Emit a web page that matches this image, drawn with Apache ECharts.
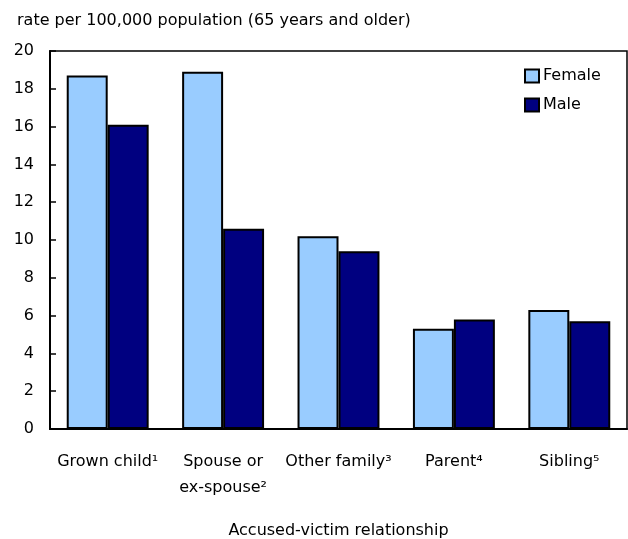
<!DOCTYPE html>
<html><head><meta charset="utf-8">
<script src="https://cdn.jsdelivr.net/npm/echarts@6/dist/echarts.min.js"></script>
<style>html,body{margin:0;padding:0;background:#fff}#c{width:628px;height:539px}</style>
</head><body><div id="c"></div>
<script>
var categories = ['Grown child\u00b9', 'Spouse or\nex-spouse\u00b2', 'Other family\u00b3', 'Parent\u2074', 'Sibling\u2075'];
var female = [18.7, 18.9, 10.2, 5.3, 6.3];
var male = [16.1, 10.6, 9.4, 5.8, 5.7];
var yTicks = {min: 0, max: 20, interval: 2};
var FONT = 'DejaVu Sans, Liberation Sans, Arial, sans-serif';
var chart = echarts.init(document.getElementById('c'));
chart.setOption({
  animation: false,
  textStyle: {fontFamily: FONT},
  title: {text: 'rate per 100,000 population (65 years and older)', left: 12, top: 8,
    textStyle: {fontFamily: FONT, fontSize: 16, fontWeight: 'normal', color: '#000'}},
  legend: {left: 519, top: 63, orient: 'vertical', icon: 'rect', itemWidth: 14, itemHeight: 13, itemGap: 13,
    textStyle: {fontFamily: FONT, fontSize: 16, color: '#000', padding: [0, 0, 0, -1]},
    data: ['Female', 'Male']},
  grid: {left: 50, right: 1, top: 51, bottom: 110, show: true, borderColor: '#000', borderWidth: 1.5,
    containLabel: false, outerBoundsMode: 'none'},
  xAxis: {type: 'category', data: categories,
    name: 'Accused-victim relationship', nameLocation: 'middle', nameGap: 94,
    nameTextStyle: {fontFamily: FONT, fontSize: 16, color: '#000'},
    axisLine: {lineStyle: {color: '#000', width: 2}}, axisTick: {show: false},
    axisLabel: {fontFamily: FONT, fontSize: 16, color: '#000', margin: 20, lineHeight: 26, interval: 0}},
  yAxis: {type: 'value', min: yTicks.min, max: yTicks.max, interval: yTicks.interval,
    splitLine: {show: false},
    axisLine: {show: true, lineStyle: {color: '#000', width: 2}},
    axisTick: {show: true, inside: true, length: 6, lineStyle: {color: '#000', width: 1.5}},
    axisLabel: {fontFamily: FONT, fontSize: 16, color: '#000', margin: 16}},
  series: [
    {name: 'Female', type: 'bar', data: female, barGap: '0%', barCategoryGap: '29%',
      itemStyle: {color: '#99CCFF', borderColor: '#000', borderWidth: 2}},
    {name: 'Male', type: 'bar', data: male,
      itemStyle: {color: '#000080', borderColor: '#000', borderWidth: 2}}
  ]
});
</script></body></html>
